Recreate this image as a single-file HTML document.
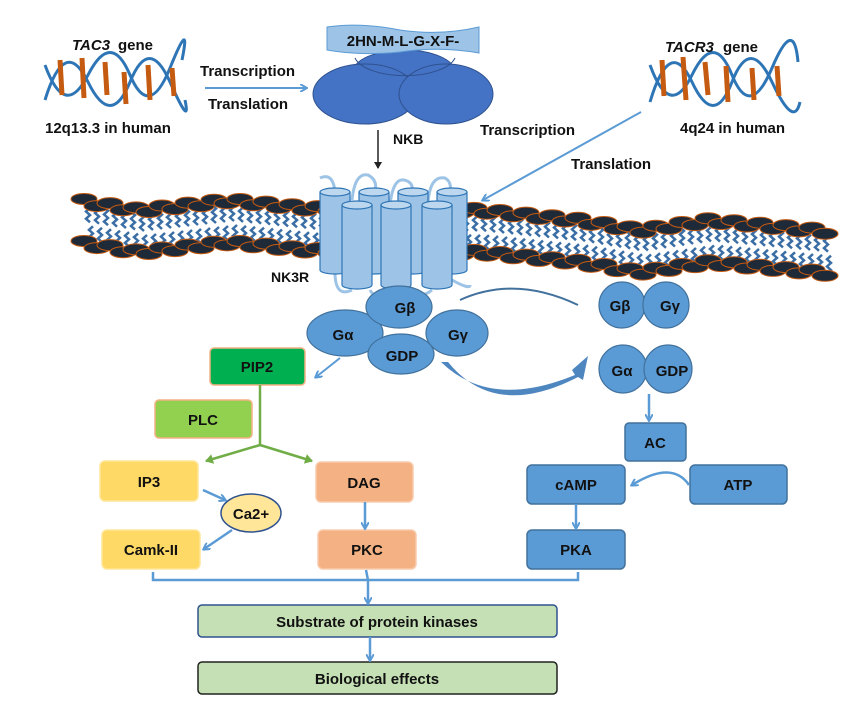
<!DOCTYPE html>
<html><head><meta charset="utf-8"><style>
body{margin:0;background:#fff}
svg{display:block;font-family:"Liberation Sans",Arial,sans-serif;font-weight:bold}
</style></head><body>
<svg id="s" width="864" height="708" viewBox="0 0 864 708" xmlns="http://www.w3.org/2000/svg">
<defs>
<marker id="ab" markerWidth="8" markerHeight="8" refX="6" refY="4" orient="auto" markerUnits="userSpaceOnUse"><path d="M0,0 L7,4 L0,8" fill="none" stroke="#5b9bd5" stroke-width="2"/></marker>
<marker id="ak" markerWidth="8" markerHeight="8" refX="6" refY="4" orient="auto" markerUnits="userSpaceOnUse"><path d="M0,0 L7,4 L0,8 z" fill="#222"/></marker>
<marker id="ag" markerWidth="10" markerHeight="10" refX="7" refY="5" orient="auto" markerUnits="userSpaceOnUse"><path d="M0,0 L8,5 L0,10 z" fill="#70ad47"/></marker>
</defs>
<g id="mem"></g>

<!-- DNA left -->
<g fill="none" stroke-width="3">
<path d="M45,100 Q65,35 88,82 T130,82 T170,82 T185,100" stroke="#2e75b6"/>
<path d="M45,65 Q65,120 88,75 T130,75 T170,68 T182,60" stroke="#2e75b6"/>
<g stroke="#c55a11" stroke-width="5"><line x1="60" y1="60" x2="62" y2="95"/><line x1="82" y1="58" x2="84" y2="98"/><line x1="105" y1="62" x2="107" y2="95"/><line x1="124" y1="72" x2="126" y2="104"/><line x1="148" y1="65" x2="150" y2="100"/><line x1="172" y1="68" x2="174" y2="96"/></g>
</g>
<!-- DNA right -->
<g fill="none" stroke-width="3">
<path d="M650,102 Q670,35 692,82 T732,82 T772,82 T800,102" stroke="#2e75b6"/>
<path d="M650,65 Q670,120 692,75 T732,75 T772,68 T798,62" stroke="#2e75b6"/>
<g stroke="#c55a11" stroke-width="5"><line x1="662" y1="60" x2="664" y2="96"/><line x1="683" y1="57" x2="686" y2="100"/><line x1="705" y1="62" x2="708" y2="95"/><line x1="726" y1="66" x2="728" y2="102"/><line x1="752" y1="68" x2="754" y2="100"/><line x1="777" y1="66" x2="779" y2="96"/></g>
</g>

<g font-size="15" fill="#111">
<text x="72" y="50" font-style="italic">TAC3</text><text x="118" y="50">gene</text>
<text x="45" y="133">12q13.3 in human</text>
<text x="200" y="76">Transcription</text>
<text x="208" y="109">Translation</text>
<text x="665" y="52" font-style="italic">TACR3</text><text x="723" y="52">gene</text>
<text x="680" y="133">4q24 in human</text>
<text x="480" y="135">Transcription</text>
<text x="571" y="169">Translation</text>
<text x="393" y="144" font-size="14">NKB</text>
<text x="271" y="282" font-size="14">NK3R</text>
</g>
<line x1="205" y1="88" x2="306" y2="88" stroke="#5b9bd5" stroke-width="2" marker-end="url(#ab)"/>
<line x1="641" y1="112" x2="483" y2="200" stroke="#5b9bd5" stroke-width="2" marker-end="url(#ab)"/>
<line x1="378" y1="130" x2="378" y2="168" stroke="#222" stroke-width="1.5" marker-end="url(#ak)"/>

<!-- NKB -->
<g fill="#4472c4" stroke="#2f528f" stroke-width="1">
<ellipse cx="404" cy="72" rx="51" ry="22"/>
<ellipse cx="365" cy="94" rx="52" ry="30"/>
<ellipse cx="446" cy="94" rx="47" ry="30"/>
<path d="M355,58 A51,22 0 0 0 455,58" fill="none"/>
</g>
<path d="M327,27 Q360,22 400,30 Q440,36 479,27 L479,53 Q440,46 400,52 Q360,56 327,50 z" fill="#9dc3e6" stroke="#5b9bd5"/>
<text x="403" y="46" font-size="15" text-anchor="middle" fill="#111">2HN-M-L-G-X-F-</text>

<!-- receptor loops -->
<g fill="none" stroke="#9dc3e6" stroke-width="3">
<path d="M320,178 Q333,172 335,192"/>
<path d="M352,200 Q355,172 368,175 Q378,180 375,192"/>
<path d="M390,205 Q393,178 404,180 Q414,182 412,192"/>
<path d="M428,203 Q430,175 445,178 Q452,182 450,192"/>
<path d="M335,272 Q335,298 352,290"/>
<path d="M370,290 Q375,300 385,290"/>
<path d="M412,288 Q420,300 432,290"/>
<path d="M452,280 Q470,290 470,285"/>
</g>
<g id="cyl" fill="#9dc3e6" stroke="#2e75b6" stroke-width="1.2"></g>

<!-- G protein -->
<g fill="#5b9bd5" stroke="#41719c" stroke-width="1.2">
<ellipse cx="345" cy="333" rx="38" ry="23"/>
<ellipse cx="457" cy="333" rx="31" ry="23"/>
<ellipse cx="399" cy="307" rx="33" ry="21"/>
<ellipse cx="401" cy="354" rx="33" ry="20"/>
<circle cx="622" cy="305" r="23"/><circle cx="666" cy="305" r="23"/>
<circle cx="623" cy="369" r="24"/><circle cx="668" cy="369" r="24"/>
</g>
<g font-size="15" fill="#111" text-anchor="middle">
<text x="405" y="313">Gβ</text><text x="343" y="340">Gα</text><text x="458" y="340">Gγ</text><text x="402" y="361">GDP</text>
<text x="620" y="311">Gβ</text><text x="670" y="311">Gγ</text>
<text x="622" y="376">Gα</text><text x="672" y="376">GDP</text>
</g>
<path d="M460,300 Q515,275 578,305" fill="none" stroke="#41719c" stroke-width="2"/>
<path d="M441,362 Q490,410 575,375 L572,370 L588,356 L583,380 L578,377 Q495,420 448,362 z" fill="#4e86c0"/>
<line x1="340" y1="358" x2="316" y2="377" stroke="#5b9bd5" stroke-width="2" marker-end="url(#ab)"/>

<!-- boxes -->
<g stroke-width="1.5">
<rect x="210" y="348" width="95" height="37" rx="4" fill="#00b050" stroke="#f4b183"/>
<rect x="155" y="400" width="97" height="38" rx="4" fill="#92d050" stroke="#f4b183"/>
<rect x="100" y="461" width="98" height="40" rx="5" fill="#ffd966" stroke="#ffe699"/>
<rect x="316" y="462" width="97" height="40" rx="5" fill="#f4b183" stroke="#f8cbad"/>
<rect x="102" y="530" width="98" height="39" rx="5" fill="#ffd966" stroke="#ffe699"/>
<rect x="318" y="530" width="98" height="39" rx="5" fill="#f4b183" stroke="#f8cbad"/>
<ellipse cx="251" cy="513" rx="30" ry="19" fill="#ffe699" stroke="#2f528f"/>
<rect x="625" y="423" width="61" height="38" rx="4" fill="#5b9bd5" stroke="#41719c"/>
<rect x="527" y="465" width="98" height="39" rx="5" fill="#5b9bd5" stroke="#41719c"/>
<rect x="690" y="465" width="97" height="39" rx="5" fill="#5b9bd5" stroke="#41719c"/>
<rect x="527" y="530" width="98" height="39" rx="5" fill="#5b9bd5" stroke="#41719c"/>
<rect x="198" y="605" width="359" height="32" rx="4" fill="#c5e0b4" stroke="#2f528f"/>
<rect x="198" y="662" width="359" height="32" rx="4" fill="#c5e0b4" stroke="#222"/>
</g>
<g font-size="15" fill="#111" text-anchor="middle">
<text x="257" y="372">PIP2</text><text x="203" y="425">PLC</text>
<text x="149" y="487">IP3</text><text x="364" y="488">DAG</text>
<text x="251" y="519">Ca2+</text>
<text x="151" y="555">Camk-II</text><text x="367" y="555">PKC</text>
<text x="655" y="448">AC</text><text x="576" y="490">cAMP</text><text x="738" y="490">ATP</text>
<text x="576" y="555">PKA</text>
<text x="377" y="627">Substrate of protein kinases</text>
<text x="377" y="684">Biological effects</text>
</g>
<!-- connectors -->
<g fill="none" stroke-width="2.5">
<path d="M260,385 L260,445" stroke="#70ad47"/>
<path d="M260,445 L206,461" stroke="#70ad47" marker-end="url(#ag)"/>
<path d="M260,445 L312,461" stroke="#70ad47" marker-end="url(#ag)"/>
</g>
<g fill="none" stroke="#5b9bd5" stroke-width="2.5">
<line x1="203" y1="490" x2="225" y2="500" marker-end="url(#ab)"/>
<line x1="232" y1="530" x2="204" y2="549" marker-end="url(#ab)"/>
<line x1="365" y1="502" x2="365" y2="528" marker-end="url(#ab)"/>
<line x1="649" y1="394" x2="649" y2="420" marker-end="url(#ab)"/>
<line x1="576" y1="504" x2="576" y2="528" marker-end="url(#ab)"/>
<path d="M689,485 Q672,460 632,485" marker-end="url(#ab)"/>
<path d="M153,572 L153,580 L578,580 L578,572"/>
<path d="M366,570 L368,580 L368,603" marker-end="url(#ab)"/>
<line x1="370" y1="637" x2="370" y2="660" marker-end="url(#ab)"/>
</g>
</svg>
<script>
(function(){
var pts=[[78,200],[140,210],[230,200],[310,208],[480,210],[580,220],[640,230],[710,220],[838,232]];
function y(x){for(var i=0;i<pts.length-1;i++){if(x<=pts[i+1][0]){var t=(x-pts[i][0])/(pts[i+1][0]-pts[i][0]);return pts[i][1]+t*(pts[i+1][1]-pts[i][1]);}}return pts[pts.length-1][1];}
var g=document.getElementById("mem"),h="";
for(var x=86;x<=830;x+=9){var yy=y(x);
 var s="M"+x+","+(yy+3);for(var k=0;k<5;k++){s+=" l"+(k%2?-4:4)+",3.6";}
 s+=" M"+(x+3)+","+(yy+43);for(k=0;k<5;k++){s+=" l"+(k%2?-4:4)+",-3.6";}
 h+='<path d="'+s+'" fill="none" stroke="#3a6ea5" stroke-width="2.5"/>';}
for(x=84;x<=832;x+=13){var yy=y(x),o=((x/13)|0)%2?3:-2;
 h+='<ellipse cx="'+x+'" cy="'+(yy+o)+'" rx="13" ry="5.5" fill="#1f2a38" stroke="#c55a11" stroke-width="1"/>';
 h+='<ellipse cx="'+x+'" cy="'+(yy+42+o)+'" rx="13" ry="5.5" fill="#1f2a38" stroke="#c55a11" stroke-width="1"/>';}
g.innerHTML=h;
var c=document.getElementById("cyl"),cs=[[320,192,270],[359,192,270],[398,192,270],[437,192,270],[342,205,285],[381,205,285],[422,205,285]],ch="";
cs.forEach(function(a){var w=30,cx=a[0]+w/2;
 ch+='<path d="M'+a[0]+','+a[1]+' L'+a[0]+','+a[2]+' A15,4 0 0 0 '+(a[0]+w)+','+a[2]+' L'+(a[0]+w)+','+a[1]+'"/>';
 ch+='<ellipse cx="'+cx+'" cy="'+a[1]+'" rx="15" ry="4" fill="#bdd7ee"/>';});
c.innerHTML=ch;
})();
</script>
</body></html>
